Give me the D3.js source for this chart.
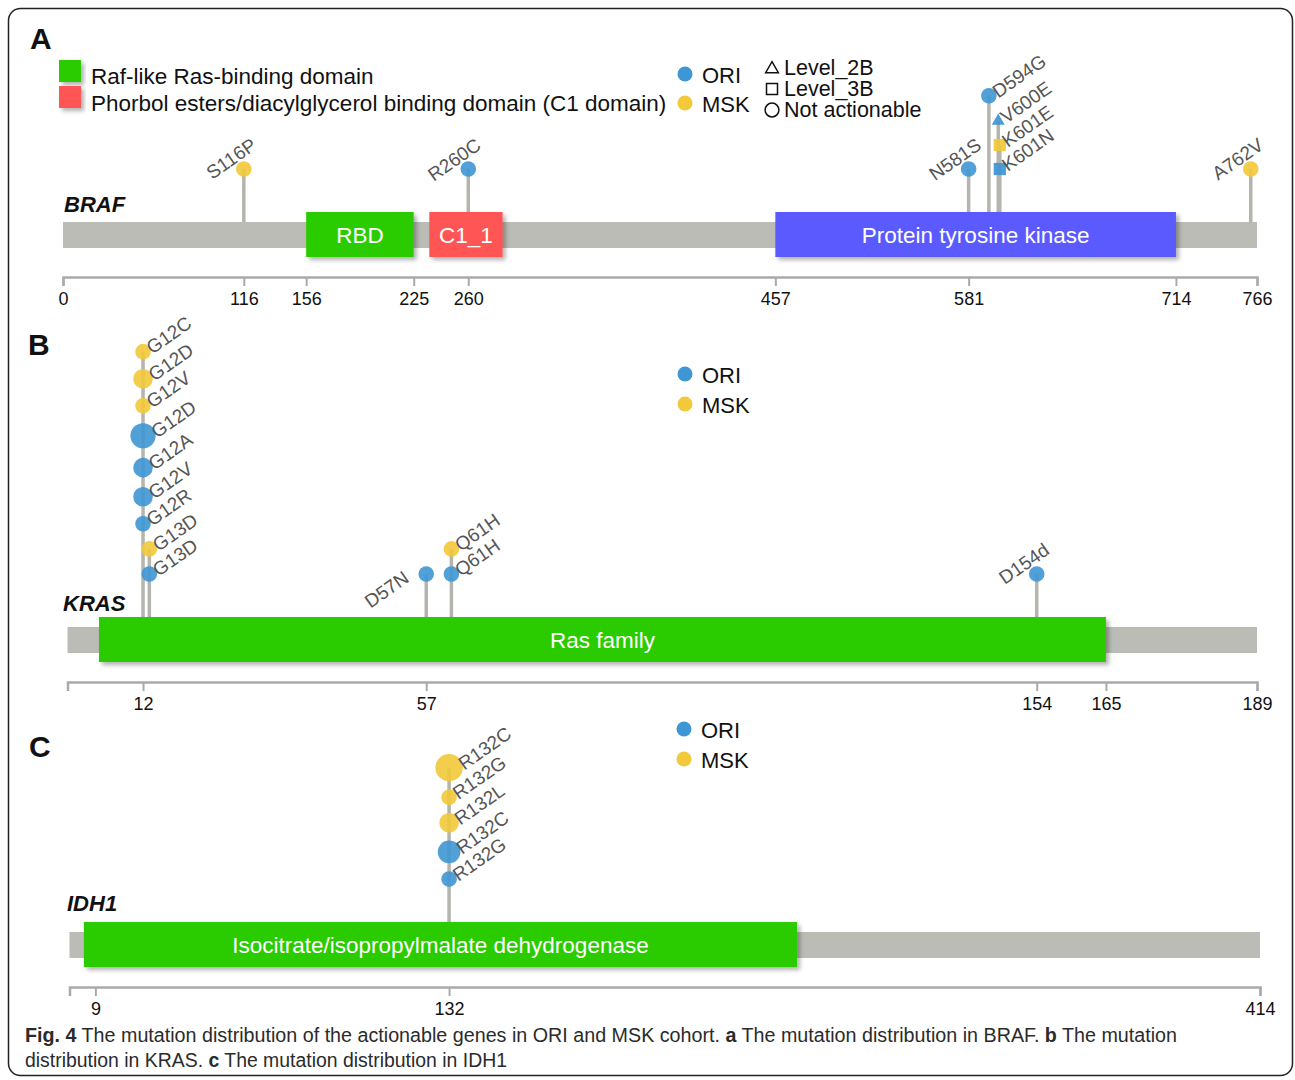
<!DOCTYPE html>
<html>
<head>
<meta charset="utf-8">
<script src="https://cdn.jsdelivr.net/npm/d3@7"></script>
<style>
  html, body { margin: 0; padding: 0; background: #fff; }
  svg { display: block; }
  text { font-family: "Liberation Sans", Arial, Helvetica, sans-serif; }
</style>
</head>
<body>
<svg id="fig" width="1295" height="1080"></svg>
<script>
// ---------- BRAF ----------
const brafLength = 766;
const brafDomains = [
  { name: "RBD", start: 156, end: 225 },
  { name: "C1_1", start: 235, end: 282 },
  { name: "Protein tyrosine kinase", start: 457, end: 714 }
];
const brafTicks = [0, 116, 156, 225, 260, 457, 581, 714, 766];
// stacked mutations are listed bottom -> top
const brafMutations = [
  { label: "S116P", pos: 116, cohort: "MSK", level: "Not actionable", count: 1 },
  { label: "R260C", pos: 260, cohort: "ORI", level: "Not actionable", count: 1 },
  { label: "N581S", pos: 581, cohort: "ORI", level: "Not actionable", count: 1 },
  { label: "K601N", pos: 601, cohort: "ORI", level: "Level_3B", count: 1 },
  { label: "K601E", pos: 601, cohort: "MSK", level: "Level_3B", count: 1 },
  { label: "V600E", pos: 600, cohort: "ORI", level: "Level_2B", count: 1 },
  { label: "D594G", pos: 594, cohort: "ORI", level: "Not actionable", count: 1 },
  { label: "A762V", pos: 762, cohort: "MSK", level: "Not actionable", count: 1 }
];
const brafDomainLegend = [
  "Raf-like Ras-binding domain",
  "Phorbol esters/diacylglycerol binding domain (C1 domain)"
];
const actionLevels = ["Level_2B", "Level_3B", "Not actionable"];

// ---------- KRAS ----------
const krasLength = 189;
const krasDomains = [ { name: "Ras family", start: 5, end: 165 } ];
const krasTicks = [12, 57, 154, 165, 189];
const krasMutations = [
  { label: "G13D", pos: 13, cohort: "ORI", count: 1 },
  { label: "G13D", pos: 13, cohort: "MSK", count: 1 },
  { label: "G12R", pos: 12, cohort: "ORI", count: 1 },
  { label: "G12V", pos: 12, cohort: "ORI", count: 2 },
  { label: "G12A", pos: 12, cohort: "ORI", count: 2 },
  { label: "G12D", pos: 12, cohort: "ORI", count: 4 },
  { label: "G12V", pos: 12, cohort: "MSK", count: 1 },
  { label: "G12D", pos: 12, cohort: "MSK", count: 2 },
  { label: "G12C", pos: 12, cohort: "MSK", count: 1 },
  { label: "D57N", pos: 57, cohort: "ORI", count: 1 },
  { label: "Q61H", pos: 61, cohort: "ORI", count: 1 },
  { label: "Q61H", pos: 61, cohort: "MSK", count: 1 },
  { label: "D154d", pos: 154, cohort: "ORI", count: 1 }
];

// ---------- IDH1 ----------
const idh1Length = 414;
const idh1Domains = [ { name: "Isocitrate/isopropylmalate dehydrogenase", start: 5, end: 253 } ];
const idh1Ticks = [9, 132, 414];
const idh1Mutations = [
  { label: "R132G", pos: 132, cohort: "ORI", count: 1 },
  { label: "R132C", pos: 132, cohort: "ORI", count: 3 },
  { label: "R132L", pos: 132, cohort: "MSK", count: 2 },
  { label: "R132G", pos: 132, cohort: "MSK", count: 1 },
  { label: "R132C", pos: 132, cohort: "MSK", count: 5 }
];

const cohorts = ["ORI", "MSK"];

// ---------- styling ----------
const cohortColor = { ORI: "#3e96d4", MSK: "#f2c93a" };
const domainColor = {
  "RBD": "#2ccc00",
  "C1_1": "#ff5555",
  "Protein tyrosine kinase": "#5a5aff",
  "Ras family": "#2ccc00",
  "Isocitrate/isopropylmalate dehydrogenase": "#2ccc00"
};
const legendSwatch = ["#2ccc00", "#ff5555"];
const backboneColor = "#babcb5";
const stemColor = "#b3b5ae";
const lowLeftLabels = new Set(["D57N"]);

const svg = d3.select("#fig");

const defs = svg.append("defs");
const shadow = defs.append("filter").attr("id", "shadow")
  .attr("x", "-10%").attr("y", "-20%").attr("width", "130%").attr("height", "160%");
shadow.append("feDropShadow").attr("dx", 3).attr("dy", 3).attr("stdDeviation", 2.2)
  .attr("flood-color", "#000").attr("flood-opacity", 0.3);

// outer frame
svg.append("rect").attr("x", 8.5).attr("y", 8.5).attr("width", 1284).attr("height", 1067)
  .attr("rx", 12).attr("fill", "none").attr("stroke", "#222").attr("stroke-width", 1.5);

const rScale = d3.scaleSqrt().domain([1, 4]).range([7.8, 12.6]);

function halfSize(d) {
  if (d.level === "Level_3B" || d.level === "Level_2B") return 6.5;
  return rScale(d.count);
}

function cohortLegend(g, x, y, pitch) {
  cohorts.forEach((c, i) => {
    g.append("circle").attr("cx", x).attr("cy", y + i * pitch).attr("r", 7.5)
      .attr("fill", cohortColor[c]);
    g.append("text").attr("x", x + 17).attr("y", y + i * pitch + 8.5)
      .attr("font-size", 22).attr("fill", "#111").text(c);
  });
}

function drawPanel(p) {
  const g = svg.append("g");
  const x = d3.scaleLinear().domain([0, p.length]).range([p.x0, p.x1]);
  const domTop = p.top, domH = 45;
  const bbTop = domTop + 10, bbH = 26;

  // panel letter and gene name
  g.append("text").attr("x", p.letterX).attr("y", p.letterY)
    .attr("font-size", 30).attr("font-weight", "bold").attr("fill", "#111").text(p.letter);
  g.append("text").attr("x", p.geneX).attr("y", p.geneY)
    .attr("font-size", 22).attr("font-weight", "bold").attr("font-style", "italic")
    .attr("fill", "#111").text(p.gene);

  // protein backbone
  g.append("rect").attr("x", x(0)).attr("y", bbTop)
    .attr("width", x(p.length) - x(0)).attr("height", bbH).attr("fill", backboneColor);

  // axis
  const axisG = g.append("g").attr("transform", `translate(0,${domTop + 65})`)
    .call(d3.axisBottom(x).tickValues(p.ticks).tickSize(9).tickSizeOuter(9)
      .tickFormat(d3.format("d")));
  axisG.select(".domain").attr("stroke", "#aaa").attr("stroke-width", 2.5);
  axisG.selectAll(".tick line").attr("stroke", "#aaa").attr("stroke-width", 2);
  axisG.selectAll(".tick text").attr("y", 15).attr("fill", "#111")
    .attr("font-size", 18).attr("font-family", "Liberation Sans, Arial, sans-serif");

  // mutations: stack markers whose positions overlap
  const placed = p.mutations.map(d => Object.assign({}, d, { cx: x(d.pos), h: halfSize(d) }));
  const groups = [];
  placed.forEach(d => {
    let grp = groups.find(gr => gr.some(e => Math.abs(e.cx - d.cx) < 16));
    if (!grp) { grp = []; groups.push(grp); }
    grp.push(d);
  });
  groups.forEach(grp => {
    let y = domTop - 43;
    grp.forEach((d, i) => {
      if (i > 0) y -= grp[i - 1].h + d.h + p.gap;
      d.cy = y;
      d.side = grp.length > 1 ? "right" : (lowLeftLabels.has(d.label) ? "low" : "left");
    });
  });

  const inDomain = pos => p.domains.some(dm => pos >= dm.start && pos <= dm.end);

  // stems: one per distinct position, from the highest marker down to the protein
  const stems = d3.rollups(placed, v => d3.min(v, d => d.cy), d => d.pos);
  g.append("g").selectAll("line").data(stems).join("line")
    .attr("x1", d => x(d[0])).attr("x2", d => x(d[0]))
    .attr("y1", d => d[1])
    .attr("y2", d => inDomain(d[0]) ? domTop : bbTop)
    .attr("stroke", stemColor).attr("stroke-width", 3.5);

  // domains (drawn over stems)
  const dg = g.append("g").selectAll("g").data(p.domains).join("g");
  dg.append("rect")
    .attr("x", d => x(d.start)).attr("y", domTop)
    .attr("width", d => x(d.end) - x(d.start)).attr("height", domH)
    .attr("fill", d => domainColor[d.name]).attr("filter", "url(#shadow)");
  dg.append("text")
    .attr("x", d => (x(d.start) + x(d.end)) / 2).attr("y", domTop + domH / 2 + 8)
    .attr("text-anchor", "middle").attr("font-size", 22.5).attr("fill", "#fff")
    .text(d => d.name);

  // markers
  const mg = g.append("g").selectAll("g").data(placed).join("g")
    .attr("transform", d => `translate(${d.cx},${d.cy})`);
  mg.each(function (d) {
    const s = d3.select(this);
    if (d.level === "Level_2B") {
      s.append("path").attr("d", d3.symbol().type(d3.symbolTriangle).size(73)())
        .attr("fill", cohortColor[d.cohort]).attr("fill-opacity", 0.92);
    } else if (d.level === "Level_3B") {
      s.append("path").attr("d", d3.symbol().type(d3.symbolSquare).size(150)())
        .attr("fill", cohortColor[d.cohort]).attr("fill-opacity", 0.92);
    } else {
      s.append("circle").attr("r", d.h)
        .attr("fill", cohortColor[d.cohort]).attr("fill-opacity", 0.9);
    }
  });

  // rotated mutation labels
  g.append("g").selectAll("text").data(placed).join("text")
    .attr("transform", d => {
      if (d.side === "right") return `translate(${d.cx + d.h + 1.5},${d.cy + 3}) rotate(-35)`;
      if (d.side === "low") return `translate(${d.cx - 16},${d.cy + 7}) rotate(-35)`;
      return `translate(${d.cx + 14},${d.cy - 21}) rotate(-35)`;
    })
    .attr("text-anchor", d => d.side === "right" ? "start" : "end")
    .attr("font-size", 19).attr("fill", "#555")
    .text(d => d.label);

  return g;
}

// ---------- panel A ----------
const gA = drawPanel({
  letter: "A", letterX: 30, letterY: 49, gene: "BRAF", geneX: 64, geneY: 212,
  length: brafLength, domains: brafDomains, ticks: brafTicks, mutations: brafMutations,
  x0: 63, x1: 1257, top: 212, gap: 11
});
// domain legend
brafDomainLegend.forEach((name, i) => {
  gA.append("rect").attr("x", 59).attr("y", 60 + i * 26).attr("width", 22).attr("height", 22)
    .attr("fill", legendSwatch[i]).attr("filter", "url(#shadow)");
  gA.append("text").attr("x", 91).attr("y", 84 + i * 27)
    .attr("font-size", 22.5).attr("fill", "#111").text(name);
});
cohortLegend(gA, 685, 74, 29);
// actionability legend
const shapeOf = { "Level_2B": d3.symbolTriangle, "Level_3B": d3.symbolSquare, "Not actionable": d3.symbolCircle };
const shapeSize = { "Level_2B": 70, "Level_3B": 121, "Not actionable": 150 };
actionLevels.forEach((lv, i) => {
  const y = 68 + i * 21;
  gA.append("path").attr("transform", `translate(772,${y + (i === 0 ? 1 : 0)})`)
    .attr("d", d3.symbol().type(shapeOf[lv]).size(shapeSize[lv])())
    .attr("fill", "none").attr("stroke", "#111").attr("stroke-width", 1.5);
  gA.append("text").attr("x", 784).attr("y", y + 7)
    .attr("font-size", 21.5).attr("fill", "#111").text(lv);
});

// ---------- panel B ----------
const gB = drawPanel({
  letter: "B", letterX: 28, letterY: 355, gene: "KRAS", geneX: 63, geneY: 611,
  length: krasLength, domains: krasDomains, ticks: krasTicks, mutations: krasMutations,
  x0: 67.5, x1: 1257, top: 617, gap: 9.5
});
cohortLegend(gB, 685, 374, 30);

// ---------- panel C ----------
const gC = drawPanel({
  letter: "C", letterX: 29, letterY: 757, gene: "IDH1", geneX: 67, geneY: 911,
  length: idh1Length, domains: idh1Domains, ticks: idh1Ticks, mutations: idh1Mutations,
  x0: 69.5, x1: 1260, top: 922, gap: 8
});
cohortLegend(gC, 684, 729, 30);

// ---------- caption ----------
const captionFont = "'Liberation Sans Narrow', 'DejaVu Sans Condensed', 'Open Sans', sans-serif";
const cap1 = svg.append("text").attr("x", 25).attr("y", 1042)
  .attr("font-size", 19.5).attr("fill", "#2b2b2b").attr("font-family", captionFont)
  .attr("textLength", 1152).attr("lengthAdjust", "spacingAndGlyphs");
cap1.append("tspan").attr("font-weight", "bold").text("Fig. 4");
cap1.append("tspan").text(" The mutation distribution of the actionable genes in ORI and MSK cohort. ");
cap1.append("tspan").attr("font-weight", "bold").text("a");
cap1.append("tspan").text(" The mutation distribution in BRAF. ");
cap1.append("tspan").attr("font-weight", "bold").text("b");
cap1.append("tspan").text(" The mutation");
const cap2 = svg.append("text").attr("x", 25).attr("y", 1067)
  .attr("font-size", 19.5).attr("fill", "#2b2b2b").attr("font-family", captionFont)
  .attr("textLength", 482).attr("lengthAdjust", "spacingAndGlyphs");
cap2.append("tspan").text("distribution in KRAS. ");
cap2.append("tspan").attr("font-weight", "bold").text("c");
cap2.append("tspan").text(" The mutation distribution in IDH1");
</script>
</body>
</html>
